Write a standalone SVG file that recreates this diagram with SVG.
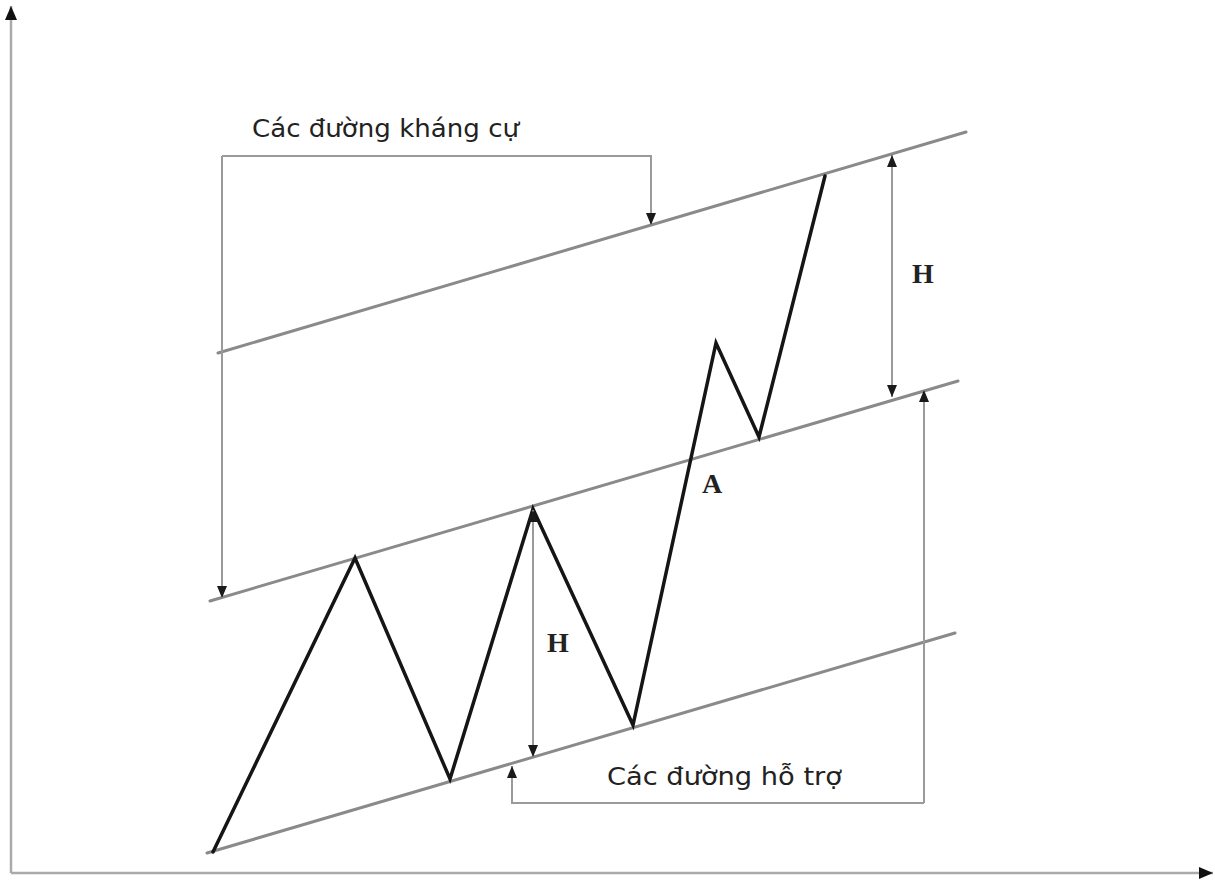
<svg xmlns="http://www.w3.org/2000/svg" width="1215" height="882" viewBox="0 0 1215 882">
<style>
.axis{stroke:#aaa;stroke-width:2.5;fill:none}
.chan{stroke:#8a8a8a;stroke-width:3;fill:none;stroke-linecap:round}
.price{stroke:#151515;stroke-width:3.5;fill:none;stroke-linejoin:miter;stroke-linecap:round}
.dim{stroke:#9a9a9a;stroke-width:2;fill:none}
.lbl{font-family:"DejaVu Sans",Verdana,sans-serif;font-size:24px;fill:#222}
.h{font-family:"Liberation Serif","Times New Roman",serif;font-weight:bold;font-size:28px;fill:#222;text-anchor:middle}
</style>
<defs>
<marker id="ah" viewBox="0 0 12 10" refX="12" refY="5" markerWidth="12" markerHeight="10" markerUnits="userSpaceOnUse" orient="auto">
<path d="M0,0 L12,5 L0,10 Z" fill="#1a1a1a"/>
</marker>
<marker id="ax" viewBox="0 0 14 12" refX="14" refY="6" markerWidth="14" markerHeight="12" markerUnits="userSpaceOnUse" orient="auto">
<path d="M0,0 L14,6 L0,12 Z" fill="#111"/>
</marker>
</defs>
<rect width="1215" height="882" fill="#fff"/>
<g id="axes">
<line class="axis" x1="11" y1="873" x2="11" y2="6" marker-end="url(#ax)"/>
<line class="axis" x1="11" y1="873" x2="1213" y2="873" marker-end="url(#ax)"/>
</g>
<g id="channel">
<line class="chan" x1="218" y1="353" x2="966" y2="132"/>
<line class="chan" x1="210" y1="601" x2="958" y2="381"/>
<line class="chan" x1="207" y1="853" x2="955" y2="633"/>
</g>
<g id="price">
<polyline class="price" points="213,852 355,558 450,779 533,509 633,725 716,343 759,437 825,176"/>
</g>
<g id="connectors">
<polyline class="dim" points="222,156 651,156 651,225" marker-end="url(#ah)"/>
<line class="dim" x1="222" y1="156" x2="222" y2="598" marker-end="url(#ah)"/>
<line class="dim" x1="892" y1="276" x2="892" y2="155" marker-end="url(#ah)"/>
<line class="dim" x1="892" y1="276" x2="892" y2="397" marker-end="url(#ah)"/>
<polyline class="dim" points="924,803 512,803 512,766" marker-end="url(#ah)"/>
<line class="dim" x1="924" y1="803" x2="924" y2="390" marker-end="url(#ah)"/>
<line class="dim" x1="533" y1="630" x2="533" y2="510" marker-end="url(#ah)"/>
<line class="dim" x1="533" y1="630" x2="533" y2="757" marker-end="url(#ah)"/>
</g>
<g id="label-resistance">
<text class="lbl" x="252" y="137" textLength="267" lengthAdjust="spacingAndGlyphs">Các đường kháng cự</text>
</g>
<g id="label-support">
<text class="lbl" x="607" y="785" textLength="235" lengthAdjust="spacingAndGlyphs">Các đường hỗ trợ</text>
</g>
<g id="label-H-right"><text class="h" x="923" y="283">H</text></g>
<g id="label-H-mid"><text class="h" x="558" y="652">H</text></g>
<g id="label-A"><text class="h" x="712" y="493">A</text></g>
</svg>
